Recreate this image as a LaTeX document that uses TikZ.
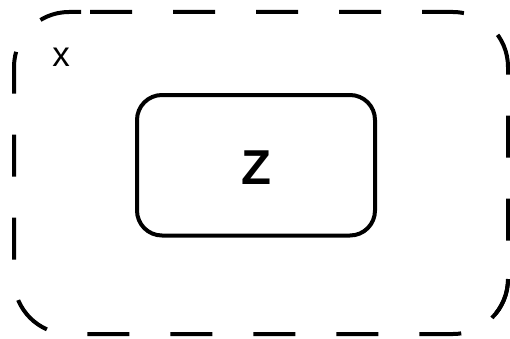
\documentclass[tikz,border=0pt]{standalone}
\usepackage{fontspec}
\setmainfont{Liberation Sans}
\begin{document}
\begin{tikzpicture}[x=1pt,y=1pt,
  frame/.style={line width=4pt, dash pattern=on 42pt off 41pt},
  box/.style={draw, line width=4pt, rounded corners=25pt, minimum width=238pt,
    minimum height=140.5pt, inner sep=0pt, text height=39pt,
    font=\fontsize{49}{49}\selectfont\bfseries},
  lbl/.style={font=\fontsize{35}{35}\selectfont, inner sep=0pt, anchor=base}]
\useasboundingbox (0,0) rectangle (510,338);
% outer dashed frame (two strokes, as in the reference)
\draw[frame] (90,326) -- (453,326) arc[start angle=90,end angle=0,radius=55]
  -- (508,59) arc[start angle=0,end angle=-45,radius=55];
\draw[frame] (81,326) -- (69,326) arc[start angle=90,end angle=180,radius=55]
  -- (14,59) arc[start angle=180,end angle=270,radius=55]
  -- (453,4) arc[start angle=270,end angle=360,radius=55];
\node[box] (z) at (256,172.75) {Z};
\node[lbl] (x) at (61,272) {x};
\end{tikzpicture}
\end{document}
